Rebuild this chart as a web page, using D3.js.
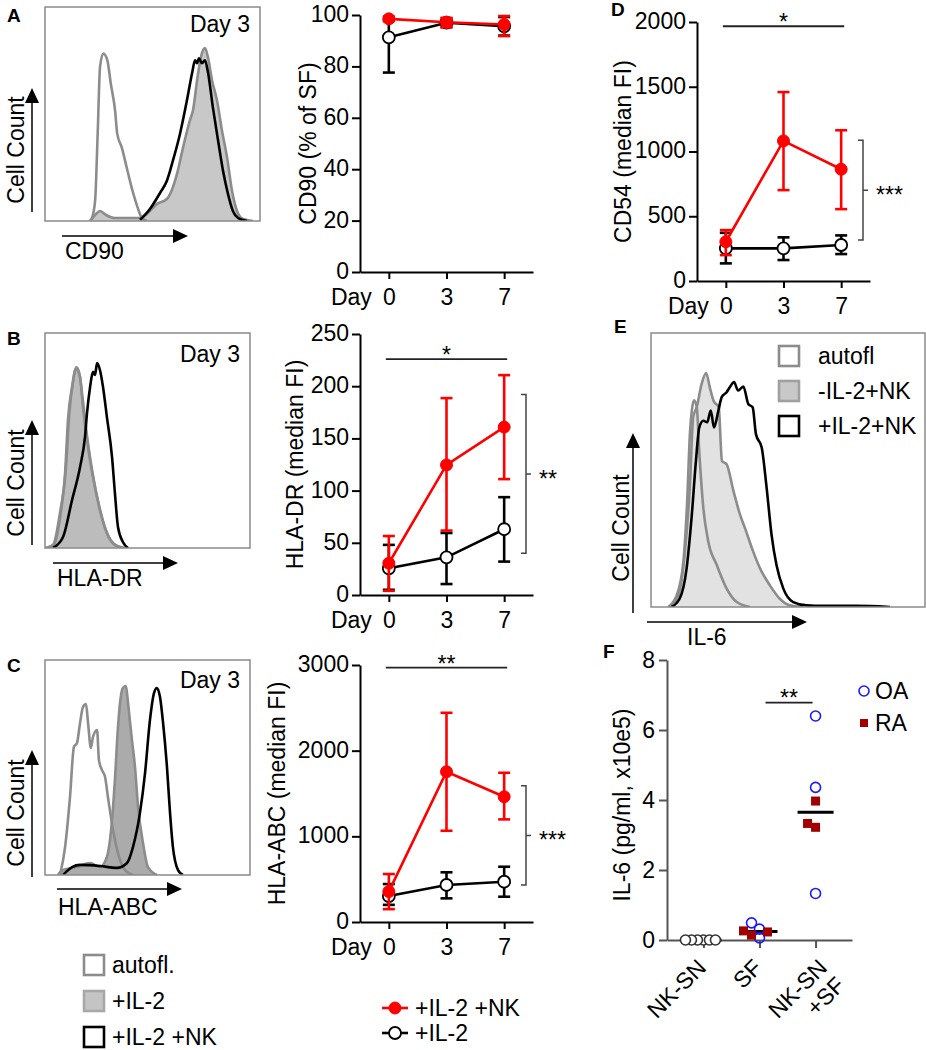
<!DOCTYPE html>
<html lang="en">
  <head>
    <meta charset="UTF-8" />
    <title>Figure</title>
    <style>
      body { margin: 0; background: #fff; }
      svg { display: block; font-family: "Liberation Sans", Arial, sans-serif; }
    </style>
  </head>
  <body>
    <svg id="svg" width="926" height="1050"></svg>

    <script src="https://cdn.jsdelivr.net/npm/d3@7"></script>
    <script>
      // ---- data ----
      const DAYS = ["0", "3", "7"];

      // A: CD90 (% of SF)
      const A_NK = [98.5, 97.2, 96.3];
      const A_NK_LO = [97.6, 95.2, 91.8];
      const A_NK_HI = [99.4, 98.9, 99.6];
      const A_IL2 = [91.3, 97.0, 95.6];
      const A_IL2_LO = [77.6, 95.3, 92.0];
      const A_IL2_HI = [98.0, 98.7, 99.2];

      // B: HLA-DR (median FI)
      const B_NK = [30.4, 124.6, 160.8];
      const B_NK_LO = [4, 61.7, 111];
      const B_NK_HI = [56.5, 188.6, 210.6];
      const B_IL2 = [25.6, 36.1, 63];
      const B_IL2_LO = [5, 10.5, 32];
      const B_IL2_HI = [48, 59.4, 93.7];

      // C: HLA-ABC (median FI)
      const C_NK = [355, 1754, 1462];
      const C_NK_LO = [150, 1065, 1198];
      const C_NK_HI = [560, 2442, 1742];
      const C_IL2 = [303, 432, 470];
      const C_IL2_LO = [200, 276, 295];
      const C_IL2_HI = [443, 580, 645];

      // D: CD54 (median FI)
      const D_NK = [303, 1082, 863];
      const D_NK_LO = [200, 702, 555];
      const D_NK_HI = [393, 1459, 1164];
      const D_IL2 = [252, 252, 278];
      const D_IL2_LO = [136, 162, 208];
      const D_IL2_HI = [372, 337, 352];

      // F: IL-6 (pg/ml, x10e5)
      const F_GROUPS = ["NK-SN", "SF", "NK-SN\n+SF"];
      const F_NKSN = [0, 0, 0, 0, 0, 0];
      const F_SF_OA = [0.31, 0.06, 0.49];
      const F_SF_RA = [0.26, 0.14, 0.23];
      const F_MIX_OA = [6.4, 4.36, 1.33];
      const F_MIX_RA = [3.97, 3.33, 3.22];

      // histograms: [channel, count]
      const HIST_A_AUTOFL = [[21.7,0.8],[23.3,9.4],[24.5,40.7],[25.6,72],[27.1,78.3],[29,75.1],[30.6,64.2],[32.6,51.6],[33.6,40.7],[35.7,34.4],[38,25],[40.3,15.6],[42.6,7.8],[45,1.5],[47.3,0]];
      const HIST_A_IL2 = [[20.9,0],[23.3,2.8],[25.6,4.7],[28.4,2.8],[32.6,1.4],[44.2,1.4],[47.4,3.3],[52.1,8],[56.7,10.3],[61.4,22],[64.2,34.3],[67.4,47],[68.8,51.6],[71.2,69],[73,78.4],[74.4,80.8],[75.8,76.5],[77.7,65.7],[80,56.3],[82.3,42.3],[84.7,29.6],[87,14],[89.3,4.7],[92.1,0.9],[96.7,0]];
      const HIST_A_NK = [[44.2,0.5],[48.8,5.6],[53.5,13.1],[56.7,18.8],[59.5,28.2],[62.8,40.8],[66,56.3],[68.4,69],[69.8,75.1],[70.7,73.7],[71.6,76],[73,73.7],[74.4,75.1],[75.8,69.5],[78.1,53],[80.5,37.6],[82.8,23.5],[85.1,12.7],[87.4,4.7],[89.8,1.4],[94,0]];

      const HIST_B_AUTOFL = [[1,0],[4.5,1.8],[7.8,17],[10.2,37],[11.8,62],[13.6,77],[15.3,84],[16.8,81],[18.3,70],[20.5,52],[23,36],[26.3,20],[29.8,8],[33.5,2],[38,0]];
      const HIST_B_IL2 = [[0,0],[3.9,1.4],[7.3,16.3],[9.8,34.9],[11.2,59.5],[13.2,74.9],[15.1,83.3],[17.1,79.5],[18.5,65.6],[21,47],[23.4,33],[26.8,17.7],[30.2,7],[34.1,1.4],[39,0]];
      const HIST_B_NK = [[3.9,0],[8.8,5.1],[13.2,22.3],[17.1,37.7],[19.5,51.6],[20.5,62.8],[22,74.9],[23.4,81.9],[24.4,80.5],[25.4,86],[26.8,82.8],[28.3,74.9],[30.2,60.9],[32.7,42.3],[34.1,25.6],[35.6,9.8],[38,2.8],[40.5,0]];

      const HIST_C_AUTOFL = [[7.3,0],[9.8,13],[12.2,36.3],[14.1,59.5],[15.6,61.4],[17.1,70.7],[18.5,78.1],[20,79.5],[21,70.7],[22.4,59.1],[23.4,64.2],[25.4,67.4],[26.3,53.5],[27.8,48.8],[29.3,45.6],[30.7,36.3],[33.2,20.9],[35.6,10.2],[39,2.3],[42.9,0]];
      const HIST_C_IL2 = [[6.3,0],[8.8,2.3],[15.6,3.7],[22,5.6],[26.8,3.7],[30.2,8.4],[32.7,25.6],[34.1,44.2],[35.6,68.8],[37.1,83.7],[38,87],[39.5,87.9],[40.5,80],[42.4,62.8],[43.9,50.2],[45.4,31.6],[47.8,14.9],[50.2,3.7],[54.6,0]];
      const HIST_C_NK = [[8.8,0],[13.2,3.7],[17.1,4.7],[26.8,4.2],[35.1,3.3],[40,5.6],[42.9,13],[46.3,28.8],[48.8,47.4],[51.2,72.1],[53.2,84.7],[54.6,87],[56.1,82.8],[57.6,70.7],[59.5,50.2],[61,28.8],[62.4,13],[64.9,2.3],[67.3,0]];

      const HIST_E_AUTOFL = [[6.3,0],[9.4,4.3],[11.8,16.5],[13.2,38.6],[14.2,63.1],[14.9,71.7],[15.7,75.4],[16.7,73],[17.6,57],[19.1,36.1],[20.9,23.9],[24,15.3],[27.6,6.7],[31.3,1.8],[36.1,0]];
      const HIST_E_NOIL2 = [[6.9,0],[10,4.3],[12.4,20.2],[14.2,44.4],[15.4,69.3],[16.7,73],[18.5,81.5],[20.1,85.4],[21.5,80],[22.9,75.1],[24.7,73],[25.9,53.3],[27.6,52.1],[30.1,42.3],[32.5,33.7],[34.3,28.8],[37.3,20.2],[39.8,14.1],[43.4,7.9],[47,3],[50.7,0.6],[55.6,0]];
      const HIST_E_NK = [[7.5,0],[10.5,3.1],[13,14.1],[14.8,32.5],[16.4,53.3],[17.6,65.5],[19.1,68],[20.5,67.4],[21.8,71.7],[23,65.5],[24.6,71.7],[25.8,76.6],[27.6,78.4],[28.8,80.3],[30.3,82.1],[31.8,79],[33.7,80.5],[35.5,74.1],[37.1,72.9],[38.3,63.1],[40.4,58.2],[42.2,43.5],[44,26.3],[45.8,15.3],[48.3,6.7],[51.9,1.8],[56.8,0.6],[62.9,0.4],[75,0.4],[87.2,0]];

      // ---- drawing ----
      const svg = d3.select("#svg");
      const RED = "#ff0000";
      const GREY = "#8c8c8c";
      const FS = 23;

      function panelLetter(t, x, y) {
        svg.append("text").attr("x", x).attr("y", y).attr("font-size", 19)
          .attr("font-weight", "bold").text(t);
      }

      function arrowV(x, yBottom, yTip) {
        svg.append("line").attr("x1", x).attr("x2", x).attr("y1", yBottom).attr("y2", yTip + 12)
          .attr("stroke", "#000").attr("stroke-width", 1.5);
        svg.append("path").attr("d", `M${x - 7},${yTip + 15}L${x + 7},${yTip + 15}L${x},${yTip}Z`);
      }

      function arrowH(y, xStart, xTip) {
        svg.append("line").attr("x1", xStart).attr("x2", xTip - 12).attr("y1", y).attr("y2", y)
          .attr("stroke", "#000").attr("stroke-width", 1.5);
        svg.append("path").attr("d", `M${xTip - 15},${y - 7}L${xTip - 15},${y + 7}L${xTip},${y}Z`);
      }

      function rotLabel(text, x, y) {
        svg.append("text").attr("transform", `translate(${x},${y}) rotate(-90)`)
          .attr("text-anchor", "middle").attr("font-size", FS).text(text);
      }

      function histPanel(p) {
        const [bx0, by0, bx1, by1] = p.box;
        const x = d3.scaleLinear().domain([0, 100]).range([bx0, bx1]);
        const y = d3.scaleLinear().domain([0, 100]).range([by1, by0]);
        svg.append("clipPath").attr("id", "clip" + p.id)
          .append("rect").attr("x", bx0).attr("y", by0).attr("width", bx1 - bx0).attr("height", by1 - by0);
        const area = d3.area().x((d) => x(d[0])).y0(y(0)).y1((d) => y(d[1])).curve(d3.curveMonotoneX);
        const line = d3.line().x((d) => x(d[0])).y((d) => y(d[1])).curve(d3.curveMonotoneX);
        const plot = svg.append("g").attr("clip-path", `url(#clip${p.id})`);
        p.curves.filter((c) => c.fill).forEach((c) => {
          plot.append("path").attr("d", area(c.data)).attr("fill", c.fill);
        });
        p.curves.forEach((c) => {
          plot.append("path").attr("d", line(c.data)).attr("fill", "none")
            .attr("stroke", c.stroke).attr("stroke-width", 2.6).attr("stroke-linejoin", "round");
        });
        svg.append("rect").attr("x", bx0).attr("y", by0).attr("width", bx1 - bx0).attr("height", by1 - by0)
          .attr("fill", "none").attr("stroke", "#8a8a8a").attr("stroke-width", 1.5);
        if (p.title) {
          svg.append("text").attr("x", bx1 - 10).attr("y", by0 + p.titleDy).attr("text-anchor", "end")
            .attr("font-size", FS).text(p.title);
        }
      }

      function linePanel(p) {
        const g = svg.append("g");
        const x = d3.scalePoint().domain(DAYS).range([p.x0, p.x1]).padding(0.5);
        const y = d3.scaleLinear().domain([0, p.max]).range([p.y0, p.y1]);

        const xa = g.append("g").attr("transform", `translate(0,${p.y0})`)
          .call(d3.axisBottom(x).tickSize(7).tickSizeOuter(0).tickPadding(10));
        const ya = g.append("g").attr("transform", `translate(${p.x0},0)`)
          .call(d3.axisLeft(y).tickValues(p.ticks).tickSize(8).tickSizeOuter(0).tickPadding(3).tickFormat(d3.format("d")));
        [xa, ya].forEach((a) => {
          a.attr("font-family", null).attr("font-size", FS);
          a.select(".domain").attr("stroke-width", 2);
          a.selectAll(".tick line").attr("stroke-width", 2);
          a.selectAll(".tick text").attr("fill", "#000");
        });
        ya.selectAll(".tick text").attr("dy", "0.28em");
        g.append("text").attr("x", x(DAYS[0]) - 17).attr("y", p.y0 + 33)
          .attr("text-anchor", "end").attr("font-size", FS).text("Day");
        rotLabel(p.label, p.labelX, (p.y0 + p.y1) / 2);

        p.series.forEach((s) => {
          const pts = DAYS.map((d, i) => ({ d, m: s.mean[i], lo: s.lo[i], hi: s.hi[i] }));
          g.append("path")
            .attr("d", d3.line().x((q) => x(q.d)).y((q) => y(q.m))(pts))
            .attr("fill", "none").attr("stroke", s.color).attr("stroke-width", 2.6);
          const eb = g.append("g").attr("stroke", s.color).attr("stroke-width", 2.6);
          pts.forEach((q) => {
            const cx = x(q.d);
            eb.append("line").attr("x1", cx).attr("x2", cx).attr("y1", y(q.lo)).attr("y2", y(q.hi));
            [q.lo, q.hi].forEach((v) => {
              eb.append("line").attr("x1", cx - 6).attr("x2", cx + 6).attr("y1", y(v)).attr("y2", y(v));
            });
          });
          g.selectAll(null).data(pts).join("circle")
            .attr("cx", (q) => x(q.d)).attr("cy", (q) => y(q.m)).attr("r", 6)
            .attr("fill", s.open ? "#fff" : s.color)
            .attr("stroke", s.color).attr("stroke-width", s.open ? 1.8 : 1);
        });

        if (p.bar !== undefined) {
          const by = y(p.bar);
          g.append("line").attr("x1", x(DAYS[0]) - 3).attr("x2", x(DAYS[2]) + 3)
            .attr("y1", by).attr("y2", by).attr("stroke", "#222").attr("stroke-width", 1.8);
          g.append("text").attr("x", (x(DAYS[0]) + x(DAYS[2])) / 2).attr("y", by + 4)
            .attr("text-anchor", "middle").attr("font-size", FS).text(p.barText);
        }
        if (p.bracket) {
          const bx = p.x1 - 7;
          const top = y(p.bracket[1]), bot = y(p.bracket[0]), mid = (top + bot) / 2;
          g.append("path").attr("d", `M${bx - 5},${top}H${bx}V${bot}H${bx - 5}M${bx},${mid}H${bx + 5}`)
            .attr("fill", "none").attr("stroke", "#444").attr("stroke-width", 1.5);
          g.append("text").attr("x", bx + 13).attr("y", mid + 13).attr("font-size", FS).text(p.bracketText);
        }
      }

      function seriesPair(nk, nkLo, nkHi, il2, il2Lo, il2Hi) {
        return [
          { mean: il2, lo: il2Lo, hi: il2Hi, color: "#000", open: true },
          { mean: nk, lo: nkLo, hi: nkHi, color: RED, open: false },
        ];
      }

      // ---- panel A ----
      panelLetter("A", 7, 22);
      histPanel({
        id: "A", box: [45, 7, 260, 221], title: "Day 3", titleDy: 25,
        curves: [
          { data: HIST_A_IL2, fill: "#c8c8c8", stroke: GREY },
          { data: HIST_A_AUTOFL, stroke: GREY },
          { data: HIST_A_NK, stroke: "#000" },
        ],
      });
      arrowV(32, 212, 88);
      rotLabel("Cell Count", 24, 150);
      arrowH(236, 62, 188);
      svg.append("text").attr("x", 65).attr("y", 259).attr("font-size", FS).text("CD90");

      linePanel({
        x0: 360, x1: 533, y0: 272, y1: 15, max: 100, ticks: [0, 20, 40, 60, 80, 100],
        label: "CD90 (% of SF)", labelX: 316,
        series: seriesPair(A_NK, A_NK_LO, A_NK_HI, A_IL2, A_IL2_LO, A_IL2_HI),
      });

      // ---- panel B ----
      panelLetter("B", 7, 345);
      histPanel({
        id: "B", box: [45, 333, 250, 548], title: "Day 3", titleDy: 29,
        curves: [
          { data: HIST_B_IL2, fill: "#bcbcbc", stroke: GREY },
          { data: HIST_B_AUTOFL, stroke: GREY },
          { data: HIST_B_NK, stroke: "#000" },
        ],
      });
      arrowV(32, 545, 420);
      rotLabel("Cell Count", 24, 483);
      arrowH(563, 53, 178);
      svg.append("text").attr("x", 57).attr("y", 586).attr("font-size", FS).text("HLA-DR");

      linePanel({
        x0: 360, x1: 533, y0: 595, y1: 334, max: 250, ticks: [0, 50, 100, 150, 200, 250],
        label: "HLA-DR (median FI)", labelX: 303,
        series: seriesPair(B_NK, B_NK_LO, B_NK_HI, B_IL2, B_IL2_LO, B_IL2_HI),
        bar: 226, barText: "*", bracket: [40, 192], bracketText: "**",
      });

      // ---- panel C ----
      panelLetter("C", 7, 672);
      histPanel({
        id: "C", box: [45, 660, 250, 875], title: "Day 3", titleDy: 28,
        curves: [
          { data: HIST_C_IL2, fill: "#ababab", stroke: GREY },
          { data: HIST_C_AUTOFL, stroke: GREY },
          { data: HIST_C_NK, stroke: "#000" },
        ],
      });
      arrowV(32, 877, 750);
      rotLabel("Cell Count", 24, 813);
      arrowH(889, 57, 182);
      svg.append("text").attr("x", 58).attr("y", 915).attr("font-size", FS).text("HLA-ABC");

      linePanel({
        x0: 360, x1: 533, y0: 922, y1: 665, max: 3000, ticks: [0, 1000, 2000, 3000],
        label: "HLA-ABC (median FI)", labelX: 285,
        series: seriesPair(C_NK, C_NK_LO, C_NK_HI, C_IL2, C_IL2_LO, C_IL2_HI),
        bar: 2970, barText: "**", bracket: [432, 1590], bracketText: "***",
      });

      // left legend (histograms)
      const HIST_KEYS = ["autofl.", "+IL-2", "+IL-2 +NK"];
      const histKeyStyle = [
        { fill: "#fff", stroke: GREY },
        { fill: "#c4c4c4", stroke: "#a8a8a8" },
        { fill: "#fff", stroke: "#000" },
      ];
      const legY = d3.scalePoint().domain(HIST_KEYS).range([965, 1037]);
      HIST_KEYS.forEach((k, i) => {
        svg.append("rect").attr("x", 84).attr("y", legY(k) - 10).attr("width", 20).attr("height", 20)
          .attr("fill", histKeyStyle[i].fill).attr("stroke", histKeyStyle[i].stroke).attr("stroke-width", 2.6);
        svg.append("text").attr("x", 112).attr("y", legY(k) + 8).attr("font-size", FS).text(k);
      });

      // bottom legend (line plots)
      const LINE_KEYS = ["+IL-2 +NK", "+IL-2"];
      const lineKeyY = d3.scalePoint().domain(LINE_KEYS).range([1008, 1033]);
      LINE_KEYS.forEach((k, i) => {
        const c = i === 0 ? RED : "#000";
        const ly = lineKeyY(k);
        svg.append("line").attr("x1", 382).attr("x2", 408).attr("y1", ly).attr("y2", ly)
          .attr("stroke", c).attr("stroke-width", 2.6);
        svg.append("circle").attr("cx", 395).attr("cy", ly).attr("r", 6)
          .attr("fill", i === 0 ? RED : "#fff").attr("stroke", c).attr("stroke-width", i === 0 ? 1 : 1.8);
        svg.append("text").attr("x", 415).attr("y", ly + 8).attr("font-size", FS).text(k);
      });

      // ---- panel D ----
      panelLetter("D", 611, 16);
      linePanel({
        x0: 697, x1: 870, y0: 281, y1: 22, max: 2000, ticks: [0, 500, 1000, 1500, 2000],
        label: "CD54 (median FI)", labelX: 631,
        series: seriesPair(D_NK, D_NK_LO, D_NK_HI, D_IL2, D_IL2_LO, D_IL2_HI),
        bar: 1967, barText: "*", bracket: [316, 1087], bracketText: "***",
      });

      // ---- panel E ----
      panelLetter("E", 614, 333);
      histPanel({
        id: "E", box: [651, 333, 925, 607],
        curves: [
          { data: HIST_E_NOIL2, fill: "#e2e2e2", stroke: GREY },
          { data: HIST_E_AUTOFL, stroke: GREY },
          { data: HIST_E_NK, stroke: "#000" },
        ],
      });
      const E_KEYS = ["autofl", "-IL-2+NK", "+IL-2+NK"];
      const eKeyStyle = [
        { fill: "#fff", stroke: GREY },
        { fill: "#c8c8c8", stroke: "#a0a0a0" },
        { fill: "#fff", stroke: "#000" },
      ];
      const eKeyY = d3.scalePoint().domain(E_KEYS).range([356, 426]);
      E_KEYS.forEach((k, i) => {
        svg.append("rect").attr("x", 779).attr("y", eKeyY(k) - 10).attr("width", 20).attr("height", 20)
          .attr("fill", eKeyStyle[i].fill).attr("stroke", eKeyStyle[i].stroke).attr("stroke-width", 2.6);
        svg.append("text").attr("x", 818).attr("y", eKeyY(k) + 8).attr("font-size", FS).text(k);
      });
      arrowV(633, 613, 433);
      rotLabel("Cell Count", 629, 528);
      arrowH(622, 647, 807);
      svg.append("text").attr("x", 687).attr("y", 645).attr("font-size", FS).text("IL-6");

      // ---- panel F ----
      panelLetter("F", 603, 658);
      (function () {
        const g = svg.append("g");
        const AX = "#555";
        const x = d3.scalePoint().domain(F_GROUPS).range([667, 852]).padding(0.65);
        const y = d3.scaleLinear().domain([0, 8]).range([940, 660]);
        const xa = g.append("g").attr("transform", "translate(0,940)")
          .call(d3.axisBottom(x).tickSize(8).tickSizeOuter(0).tickFormat(""));
        const ya = g.append("g").attr("transform", "translate(667,0)")
          .call(d3.axisLeft(y).tickValues([0, 2, 4, 6, 8]).tickSize(8).tickSizeOuter(0).tickPadding(4));
        [xa, ya].forEach((a) => {
          a.attr("font-family", null).attr("font-size", FS);
          a.select(".domain").attr("stroke", AX).attr("stroke-width", 2);
          a.selectAll(".tick line").attr("stroke", AX).attr("stroke-width", 2);
          a.selectAll(".tick text").attr("fill", "#000");
        });
        rotLabel("IL-6 (pg/ml, x10e5)", 630, 805);

        // category labels, rotated
        F_GROUPS.forEach((grp) => {
          const lines = grp.split("\n");
          const t = g.append("text").attr("text-anchor", "end").attr("font-size", FS)
            .attr("transform", `translate(${x(grp) + 4 + 9 * (lines.length - 1)},969) rotate(-45)`);
          lines.forEach((ln, i) => t.append("tspan").attr("x", 0).attr("dy", i ? 25 : 0).text(ln));
        });

        // simple dodge so equal values do not sit on top of each other
        function dodge(points, d) {
          const placed = [];
          points.slice().sort((a, b) => a.v - b.v).forEach((p) => {
            const py = y(p.v);
            for (let k = 0; k < 40; k++) {
              const off = k === 0 ? 0 : (k % 2 ? -1 : 1) * Math.ceil(k / 2) * d;
              if (placed.every((q) => Math.hypot(q.dx - off, q.py - py) >= d - 0.01)) {
                p.dx = off; p.py = py; placed.push(p); break;
              }
            }
          });
          return points;
        }

        const groupsData = [
          { grp: F_GROUPS[0], pts: F_NKSN.map((v) => ({ v, kind: "ctrl" })) },
          { grp: F_GROUPS[1], pts: F_SF_OA.map((v) => ({ v, kind: "OA" })).concat(F_SF_RA.map((v) => ({ v, kind: "RA" }))) },
          { grp: F_GROUPS[2], pts: F_MIX_OA.map((v) => ({ v, kind: "OA" })).concat(F_MIX_RA.map((v) => ({ v, kind: "RA" }))) },
        ];

        groupsData.forEach((gd) => {
          const cx = x(gd.grp);
          const med = d3.median(gd.pts, (p) => p.v);
          g.append("line").attr("x1", cx - 18).attr("x2", cx + 18).attr("y1", y(med)).attr("y2", y(med))
            .attr("stroke", "#000").attr("stroke-width", 3);
          dodge(gd.pts, gd.grp === F_GROUPS[0] ? 6 : 8);
          gd.pts.forEach((p) => {
            if (p.kind === "RA") {
              g.append("rect").attr("x", cx + p.dx - 4.5).attr("y", p.py - 4.5).attr("width", 9).attr("height", 9)
                .attr("fill", "#a00000");
            } else {
              g.append("circle").attr("cx", cx + p.dx).attr("cy", p.py).attr("r", 5)
                .attr("fill", p.kind === "OA" ? "none" : "#fff")
                .attr("stroke", p.kind === "OA" ? "#1a1aff" : "#333").attr("stroke-width", 1.6);
            }
          });
        });

        // significance
        const sy = y(6.78);
        g.append("line").attr("x1", x(F_GROUPS[1]) + 6).attr("x2", x(F_GROUPS[2]) - 3)
          .attr("y1", sy).attr("y2", sy).attr("stroke", "#222").attr("stroke-width", 1.8);
        g.append("text").attr("x", (x(F_GROUPS[1]) + x(F_GROUPS[2])) / 2 + 1.5).attr("y", sy + 3)
          .attr("text-anchor", "middle").attr("font-size", FS).text("**");

        // legend
        const F_KEYS = ["OA", "RA"];
        const fKeyY = d3.scalePoint().domain(F_KEYS).range([691, 723]);
        g.append("circle").attr("cx", 864).attr("cy", fKeyY("OA")).attr("r", 5)
          .attr("fill", "none").attr("stroke", "#1a1aff").attr("stroke-width", 1.6);
        g.append("rect").attr("x", 860).attr("y", fKeyY("RA") - 4).attr("width", 8).attr("height", 8).attr("fill", "#a00000");
        F_KEYS.forEach((k) => {
          g.append("text").attr("x", 875).attr("y", fKeyY(k) + 8).attr("font-size", FS).text(k);
        });
      })();
    </script>
  </body>
</html>
